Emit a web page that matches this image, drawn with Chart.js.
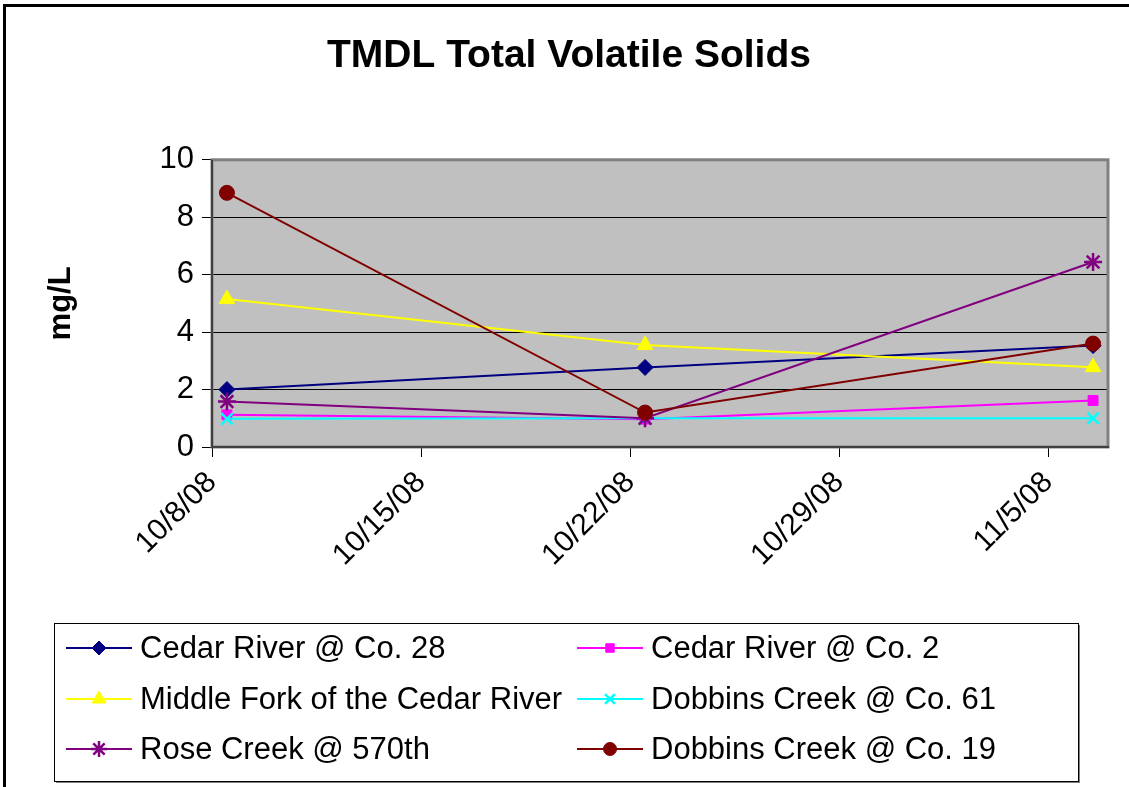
<!DOCTYPE html>
<html>
<head>
<meta charset="utf-8">
<script src="https://cdn.jsdelivr.net/npm/chart.js@4.4.0/dist/chart.umd.min.js"></script>
<style>
  html, body { margin: 0; padding: 0; background: #fff; }
  #wrap { position: relative; width: 1129px; height: 787px; }
  #frame { position: absolute; left: 3px; top: 4px; width: 1140px; height: 800px; border: 3px solid #000; box-sizing: border-box; pointer-events: none; }
</style>
</head>
<body>
<div id="wrap">
  <canvas id="myChart" width="1129" height="787"></canvas>
  <div id="frame"></div>
</div>
<script>
// sample dates and values
const sampleDates = ['10/8/08', '10/22/08', '11/6/08'];
const seriesNames = [
  'Cedar River @ Co. 28',
  'Cedar River @ Co. 2',
  'Middle Fork of the Cedar River',
  'Dobbins Creek @ Co. 61',
  'Rose Creek @ 570th',
  'Dobbins Creek @ Co. 19'
];
const cedar28 = [2.0, 2.77, 3.53];
const cedar2 = [1.12, 0.97, 1.62];
const middleFork = [5.15, 3.55, 2.78];
const dobbins61 = [0.98, 1.0, 1.0];
const rose570 = [1.58, 1.0, 6.44];
const dobbins19 = [8.85, 1.2, 3.6];
const yTicks = [0, 2, 4, 6, 8, 10];
const xTickDates = ['10/8/08', '10/15/08', '10/22/08', '10/29/08', '11/5/08'];

const seriesValues = [cedar28, cedar2, middleFork, dobbins61, rose570, dobbins19];
const colors = ['#000080', '#FF00FF', '#FFFF00', '#00FFFF', '#800080', '#800000'];
const styles = ['rectRot', 'rect', 'triangle', 'crossRot', 'star', 'circle'];
const radii = [8, 7, 9, 8, 9, 7.5];

const startDate = new Date('10/8/08');
function dayNum(s) {
  return Math.round((new Date(s) - startDate) / 86400000);
}
function fmtDay(n) {
  const d = new Date(startDate.getTime() + n * 86400000);
  return (d.getMonth() + 1) + '/' + d.getDate() + '/' + String(d.getFullYear()).slice(2);
}
const tickDays = xTickDates.map(dayNum);

const datasets = seriesNames.map((name, i) => ({
  label: name,
  // excel date axis puts the marker in the middle of the day
  data: sampleDates.map((d, j) => ({ x: dayNum(d) + 0.5, y: seriesValues[i][j] })),
  borderColor: colors[i],
  backgroundColor: colors[i],
  pointStyle: styles[i],
  pointRadius: radii[i],
  pointBorderWidth: (styles[i] === 'crossRot' || styles[i] === 'star') ? 2.5 : 1,
  pointBorderColor: colors[i],
  borderWidth: 2,
  order: seriesNames.length - i
}));

const FONT = 'Arial, "Liberation Sans", sans-serif';

const plotBg = {
  id: 'plotBg',
  beforeDraw(chart) {
    const { ctx, chartArea: a } = chart;
    ctx.save();
    ctx.fillStyle = '#C0C0C0';
    ctx.fillRect(a.left, a.top, a.right - a.left, a.bottom - a.top);
    ctx.restore();
  },
  beforeDatasetsDraw(chart) {
    const { ctx, chartArea: a } = chart;
    ctx.save();
    ctx.strokeStyle = '#808080';
    ctx.lineWidth = 3;
    ctx.strokeRect(a.left, a.top, a.right - a.left, a.bottom - a.top);
    ctx.strokeStyle = '#404040';
    ctx.lineWidth = 2;
    ctx.beginPath();
    ctx.moveTo(a.left, a.top);
    ctx.lineTo(a.left, a.bottom);
    ctx.lineTo(a.right + 1, a.bottom);
    ctx.stroke();
    ctx.restore();
  }
};

const boxLegend = {
  id: 'boxLegend',
  afterDraw(chart) {
    const { ctx } = chart;
    const box = { x: 54, y: 623, w: 1024, h: 158 };
    ctx.save();
    ctx.fillStyle = '#808080';
    ctx.fillRect(box.x + box.w, box.y + 2, 2, box.h);
    ctx.fillRect(box.x + 2, box.y + box.h, box.w, 2);
    ctx.fillStyle = '#fff';
    ctx.fillRect(box.x, box.y, box.w, box.h);
    ctx.strokeStyle = '#000';
    ctx.lineWidth = 1;
    ctx.strokeRect(box.x + 0.5, box.y + 0.5, box.w, box.h);
    ctx.font = '31px ' + FONT;
    ctx.textBaseline = 'middle';
    ctx.fillStyle = '#000';
    const colX = [66, 577];
    const rowY = [648, 699, 749];
    chart.data.datasets.forEach((ds, i) => {
      const cx = colX[i % 2];
      const cy = rowY[Math.floor(i / 2)];
      ctx.strokeStyle = ds.borderColor;
      ctx.lineWidth = 2;
      ctx.beginPath();
      ctx.moveTo(cx, cy);
      ctx.lineTo(cx + 66, cy);
      ctx.stroke();
      ctx.fillStyle = ds.backgroundColor;
      ctx.strokeStyle = ds.borderColor;
      ctx.lineWidth = ds.pointBorderWidth;
      Chart.helpers.drawPoint(ctx, { pointStyle: ds.pointStyle, radius: ds.pointRadius - 1, borderWidth: ds.pointBorderWidth, rotation: 0 }, cx + 33, cy);
      ctx.fillStyle = '#000';
      ctx.fillText(ds.label, cx + 74, cy + 1);
    });
    ctx.restore();
  }
};

new Chart(document.getElementById('myChart'), {
  type: 'line',
  data: { datasets },
  options: {
    responsive: false,
    animation: false,
    layout: { padding: { left: 30, right: 21, top: 0, bottom: 180 } },
    plugins: {
      legend: { display: false },
      tooltip: { enabled: false },
      title: {
        display: true,
        text: 'TMDL Total Volatile Solids',
        color: '#000',
        font: { family: FONT, size: 39, weight: 'bold' },
        padding: { top: 33, bottom: 80 }
      }
    },
    scales: {
      x: {
        type: 'linear',
        min: 0,
        max: 30,
        afterBuildTicks(scale) {
          scale.ticks = tickDays.map(v => ({ value: v }));
        },
        afterFit(scale) { scale.height = 160; },
        ticks: {
          callback: v => fmtDay(v),
          color: '#000',
          font: { family: FONT, size: 30 },
          minRotation: 45,
          maxRotation: 45,
          padding: 8
        },
        grid: {
          drawOnChartArea: false,
          drawTicks: true,
          tickLength: 10,
          color: '#000',
          lineWidth: 1
        },
        border: { display: false }
      },
      y: {
        min: 0,
        max: 10,
        afterBuildTicks(scale) {
          scale.ticks = yTicks.map(v => ({ value: v }));
        },
        afterFit(scale) { scale.width = 182; },
        title: {
          display: true,
          text: 'mg/L',
          color: '#000',
          font: { family: FONT, size: 31, weight: 'bold' },
          padding: { top: 13, bottom: 0 }
        },
        ticks: {
          color: '#000',
          font: { family: FONT, size: 31 },
          padding: 8
        },
        grid: {
          color: '#000',
          lineWidth: 1,
          tickLength: 10,
          drawTicks: true
        },
        border: { display: false }
      }
    }
  },
  plugins: [plotBg, boxLegend]
});
</script>
</body>
</html>
